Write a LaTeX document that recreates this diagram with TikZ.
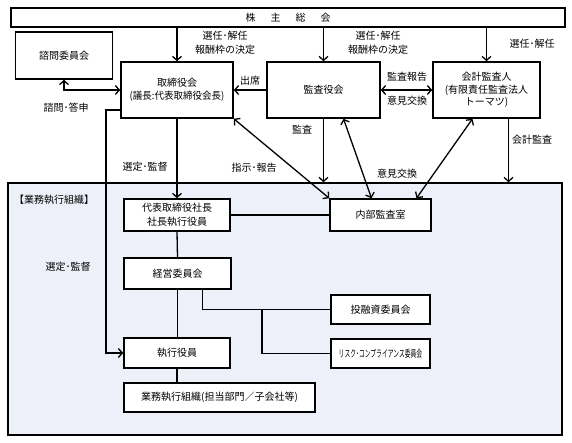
\documentclass[tikz,border=0pt]{standalone}
\usepackage{fontspec}
\setmainfont{Noto Sans CJK JP}
\usetikzlibrary{arrows.meta,calc}
\definecolor{framebg}{RGB}{237,240,248}
\tikzset{
  box/.style={draw=black,line width=1.6pt,fill=white,inner sep=0pt,align=center,
    font=\fontsize{10}{13.5}\selectfont},
  lbl/.style={inner sep=0pt,align=center,font=\fontsize{10}{14}\selectfont},
  con/.style={line width=1.3pt,draw=black},
  arr/.style={con,-{Straight Barb[length=4pt,width=9pt]}},
  darr/.style={con,{Straight Barb[length=4pt,width=9pt]}-{Straight Barb[length=4pt,width=9pt]}},
}
\begin{document}
\begin{tikzpicture}[x=1pt,y=-1pt]
\useasboundingbox (0,0) rectangle (572,442);
% frame
\node[draw=black,line width=1.6pt,fill=framebg,minimum width=554pt,minimum height=252pt,inner sep=0pt] (frame) at (285,309) {};
% top boxes
\node[box,minimum width=554pt,minimum height=19pt] (kabu) at (288,17.5) {株\hspace{15pt}主\hspace{15pt}総\hspace{15pt}会};
\node[box,minimum width=97pt,minimum height=47pt] (shimon) at (64,55.5) {諮問委員会};
\node[box,minimum width=112pt,minimum height=56pt] (tori) at (177,90) {取締役会\\\scalebox{0.95}[1]{(議長:代表取締役会長)}};
\node[box,minimum width=113pt,minimum height=56pt] (kansa) at (323.5,90) {監査役会};
\node[box,minimum width=107pt,minimum height=56pt,font=\fontsize{10}{12.5}\selectfont] (kaikei) at (486.5,90) {会計監査人\\(有限責任監査法人\\トーマツ)};
% inner boxes
\node[box,minimum width=106pt,minimum height=32pt] (daihyo) at (177,215) {代表取締役社長\\社長執行役員};
\node[box,minimum width=107pt,minimum height=31pt] (keiei) at (177.5,273.5) {経営委員会};
\node[box,minimum width=106pt,minimum height=30pt] (shikko) at (177,353) {執行役員};
\node[box,minimum width=191pt,minimum height=29pt] (gyomu) at (219.5,397.5) {業務執行組織(担当部門／子会社等)};
\node[box,minimum width=101pt,minimum height=32pt] (naibu) at (380.5,215) {内部監査室};
\node[box,minimum width=99pt,minimum height=29pt] (toyushi) at (380.5,309.5) {投融資委員会};
\node[box,minimum width=99pt,minimum height=29pt] (risk) at (380.5,353.5) {\scalebox{0.58}[1]{リスク･コンプライアンス委員会}};
% labels
\node[lbl] (l1) at (225,43) {選任･解任\\報酬枠の決定};
\node[lbl] (l2) at (378,43) {選任･解任\\報酬枠の決定};
\node[lbl] (l3) at (532,44) {選任･解任};
\node[lbl] (l4) at (250,81) {出席};
\node[lbl] (l5) at (407,77) {監査報告};
\node[lbl] (l6) at (407,101) {意見交換};
\node[lbl] (l7) at (66,108) {諮問･答申};
\node[lbl] (l8) at (145,167) {選定･監督};
\node[lbl] (l9) at (254,168) {指示･報告};
\node[lbl] (l10) at (302,130) {監査};
\node[lbl] (l11) at (397,174) {意見交換};
\node[lbl] (l12) at (532,140) {会計監査};
\node[lbl] (l13) at (68,267) {選定･監督};
\node[lbl] (l14) at (54,200) {【業務執行組織】};
% coordinates
\coordinate (sel) at (106,110);
\coordinate (br) at (262,309.5);
% connectors
\draw[arr] (kabu.south -| tori.north) -- (tori.north);
\draw[arr] (kabu.south -| kansa.north) -- (kansa.north);
\draw[arr] (kabu.south -| kaikei.north) -- (kaikei.north);
\draw[darr] (shimon.south) |- (tori.west);
\draw[arr] (kansa.west) -- (tori.east);
\draw[darr] (kansa.east) -- (kaikei.west);
\draw[arr] (tori.west |- sel) -- (sel) |- (shikko.west);
\draw[arr] (tori.south) -- (daihyo.north);
\draw[darr] (tori.south east) -- (naibu.north west);
\draw[arr] (kansa.south) -- (kansa.south |- frame.north);
\draw[darr] ([xshift=20pt]kansa.south) -- ([xshift=-9pt]naibu.north);
\draw[darr] ([xshift=-14pt]kaikei.south) -- ([xshift=36pt]naibu.north);
\draw[arr] ([xshift=22pt]kaikei.south) -- ([xshift=22pt]kaikei.south |- frame.north);
\draw[con] (daihyo.east) -- (naibu.west);
\draw[con] (daihyo.south) -- (keiei.north);
\draw[con] (keiei.south) -- (keiei.south |- shikko.north);
\draw[con] (shikko.south) -- (shikko.south |- gyomu.north);
\draw[con] ([xshift=25pt]keiei.south) |- (toyushi.west);
\draw[con] (br) |- (risk.west);
\end{tikzpicture}
\end{document}
